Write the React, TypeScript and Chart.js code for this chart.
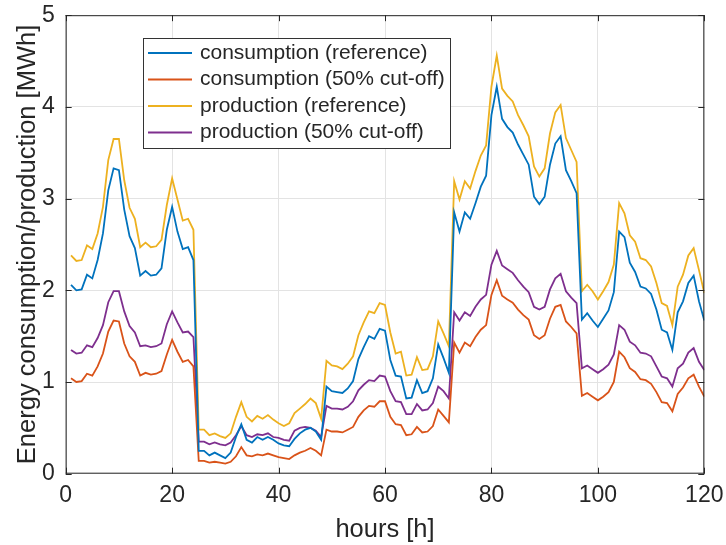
import React, { useEffect, useRef } from "react";
import { Chart, registerables } from "chart.js";

Chart.register(...registerables);

// Hourly series, hours 1..120
const FIRST_HOUR = 1;

const consumptionReference = [
  2.06, 2.0, 2.01, 2.17, 2.13, 2.33, 2.62, 3.09, 3.33, 3.31,
  2.88, 2.59, 2.46, 2.16, 2.21, 2.16, 2.17, 2.24, 2.66, 2.91,
  2.64, 2.45, 2.47, 2.33, 0.25, 0.25, 0.2, 0.23, 0.2, 0.17,
  0.23, 0.4, 0.54, 0.37, 0.34, 0.4, 0.37, 0.4, 0.37, 0.33,
  0.31, 0.3, 0.38, 0.44, 0.48, 0.5, 0.46, 0.37, 0.95, 0.9,
  0.89, 0.88, 0.93, 1.01, 1.25, 1.38, 1.5, 1.47, 1.58, 1.56,
  1.24, 1.07, 1.06, 0.82, 0.83, 1.02, 0.88, 0.9, 1.04, 1.41,
  1.26, 1.1, 2.85, 2.64, 2.85, 2.78, 2.95, 3.13, 3.25, 3.91,
  4.22, 3.87, 3.78, 3.72, 3.59, 3.48, 3.37, 3.02, 2.94, 3.02,
  3.37, 3.6, 3.68, 3.31, 3.19, 3.06, 1.68, 1.75, 1.67, 1.6,
  1.69, 1.78, 1.98, 2.64, 2.58, 2.3, 2.2, 2.04, 2.02, 1.96,
  1.79, 1.57, 1.54, 1.35, 1.76, 1.88, 2.08, 2.16, 1.88, 1.67,
];

const consumptionCutOff = [
  1.04, 1.0, 1.01, 1.09, 1.07, 1.17, 1.31, 1.55, 1.67, 1.66,
  1.42, 1.28, 1.22, 1.07, 1.1, 1.08, 1.09, 1.12, 1.3, 1.46,
  1.33, 1.22, 1.24, 1.17, 0.14, 0.14, 0.12, 0.13, 0.12, 0.11,
  0.13, 0.19, 0.29, 0.2, 0.19, 0.21, 0.2, 0.22, 0.2, 0.18,
  0.17, 0.16, 0.2, 0.23, 0.25, 0.28, 0.25, 0.2, 0.48, 0.46,
  0.46, 0.45, 0.48, 0.51, 0.62, 0.69, 0.74, 0.73, 0.79, 0.79,
  0.62, 0.54, 0.53, 0.42, 0.43, 0.51, 0.45, 0.46, 0.52, 0.7,
  0.63, 0.56, 1.43, 1.32, 1.43, 1.39, 1.49, 1.57, 1.62, 1.95,
  2.11, 1.94, 1.9, 1.865, 1.79, 1.73, 1.68, 1.51, 1.47, 1.51,
  1.69, 1.82, 1.84, 1.66, 1.6, 1.53, 0.85, 0.88, 0.84, 0.8,
  0.84, 0.89, 1.0, 1.33, 1.27, 1.15, 1.11, 1.03, 1.02, 0.98,
  0.89, 0.78, 0.77, 0.68, 0.87, 0.94, 1.04, 1.08, 0.95, 0.84,
];

const productionReference = [
  2.38, 2.32, 2.33, 2.49, 2.45, 2.62, 2.91, 3.42, 3.65, 3.65,
  3.2, 2.9, 2.78, 2.47, 2.52, 2.47, 2.48, 2.55, 2.93, 3.22,
  2.99, 2.76, 2.78, 2.66, 0.48, 0.48, 0.42, 0.44, 0.41, 0.39,
  0.44, 0.62, 0.78, 0.62, 0.57, 0.63, 0.6, 0.64, 0.59, 0.55,
  0.52, 0.55, 0.66, 0.71, 0.76, 0.82, 0.77, 0.6, 1.23, 1.18,
  1.17, 1.14, 1.2, 1.28, 1.51, 1.65, 1.77, 1.75, 1.86, 1.84,
  1.54, 1.31, 1.33, 1.07, 1.08, 1.27, 1.13, 1.14, 1.28, 1.66,
  1.53, 1.39, 3.19, 2.99, 3.19, 3.11, 3.3, 3.47, 3.58, 4.22,
  4.56, 4.2, 4.12, 4.06, 3.91, 3.8, 3.68, 3.35, 3.24, 3.33,
  3.71, 3.94, 4.02, 3.66, 3.53, 3.4, 1.99, 2.06, 1.99, 1.9,
  1.99, 2.09, 2.28, 2.95, 2.84, 2.6, 2.53, 2.35, 2.33, 2.26,
  2.08, 1.86, 1.83, 1.62, 2.04, 2.17, 2.38, 2.46, 2.22, 1.97,
];

const productionCutOff = [
  1.35, 1.31, 1.32, 1.4, 1.38, 1.48, 1.62, 1.87, 1.99, 1.99,
  1.77, 1.61, 1.54, 1.39, 1.4, 1.38, 1.39, 1.42, 1.63, 1.77,
  1.65, 1.54, 1.55, 1.49, 0.35, 0.35, 0.32, 0.34, 0.32, 0.31,
  0.34, 0.42, 0.52, 0.42, 0.4, 0.43, 0.42, 0.44, 0.4, 0.39,
  0.37, 0.36, 0.47, 0.5, 0.51, 0.5, 0.47, 0.4, 0.74, 0.71,
  0.71, 0.7, 0.73, 0.79, 0.91, 0.97, 1.02, 1.01, 1.07, 1.06,
  0.9, 0.79, 0.78, 0.65, 0.65, 0.76, 0.69, 0.7, 0.77, 0.95,
  0.9, 0.82, 1.76, 1.67, 1.76, 1.72, 1.82, 1.9, 1.95, 2.28,
  2.43, 2.27, 2.23, 2.19, 2.11, 2.04, 1.98, 1.82, 1.79, 1.82,
  2.01, 2.13, 2.18, 1.99, 1.92, 1.86, 1.15, 1.18, 1.14, 1.1,
  1.14, 1.19, 1.3, 1.62, 1.57, 1.44, 1.4, 1.32, 1.31, 1.28,
  1.17, 1.06, 1.04, 0.95, 1.15, 1.2, 1.32, 1.37, 1.22, 1.13,
];

const seriesLabels = [
  "consumption (reference)",
  "consumption (50% cut-off)",
  "production (reference)",
  "production (50% cut-off)",
];
const seriesColors = ["#0072BD", "#D95319", "#EDB120", "#7E2F8E"];

const xTickValues = [0, 20, 40, 60, 80, 100, 120];
const yTickValues = [0, 1, 2, 3, 4, 5];

const FONT_FAMILY = '"Liberation Sans", Arial, Helvetica, sans-serif';
const INK = "#262626";
const GRID = "#e3e3e3";
const TICK_LEN = 6;
const LINE_W = 1.8;

// axes box with inward ticks on all four sides
const axesBox = {
  id: "axesBox",
  afterDatasetsDraw(chart: any) {
    const { ctx, chartArea: a, scales } = chart;
    ctx.save();
    ctx.strokeStyle = INK;
    ctx.lineWidth = 1;
    ctx.beginPath();
    ctx.moveTo(a.left, a.top + 0.5);
    ctx.lineTo(a.right, a.top + 0.5);
    ctx.moveTo(a.right - 0.5, a.top);
    ctx.lineTo(a.right - 0.5, a.bottom);
    ctx.moveTo(a.left, a.bottom - 0.5);
    ctx.lineTo(a.right, a.bottom - 0.5);
    ctx.moveTo(a.left + 0.5, a.top);
    ctx.lineTo(a.left + 0.5, a.bottom);
    for (const v of xTickValues) {
      const px = Math.round(scales.x.getPixelForValue(v)) + 0.5;
      ctx.moveTo(px, a.bottom);
      ctx.lineTo(px, a.bottom - TICK_LEN);
      ctx.moveTo(px, a.top);
      ctx.lineTo(px, a.top + TICK_LEN);
    }
    for (const v of yTickValues) {
      const py = Math.round(scales.y.getPixelForValue(v)) + 0.5;
      ctx.moveTo(a.left, py);
      ctx.lineTo(a.left + TICK_LEN, py);
      ctx.moveTo(a.right, py);
      ctx.lineTo(a.right - TICK_LEN, py);
    }
    ctx.stroke();
    ctx.restore();
  },
};

// boxed legend inside the plot area, upper left
const boxedLegend = {
  id: "boxedLegend",
  afterDraw(chart: any) {
    const { ctx, chartArea: a } = chart;
    const left = Math.round(a.left + 77);
    const top = Math.round(a.top + 23);
    const width = 307;
    const height = 110;
    const rowH = 26.5;
    ctx.save();
    ctx.fillStyle = "#ffffff";
    ctx.fillRect(left, top, width, height);
    ctx.strokeStyle = "#333333";
    ctx.lineWidth = 1;
    ctx.strokeRect(left + 0.5, top + 0.5, width, height);
    ctx.font = `21px ${FONT_FAMILY}`;
    ctx.textBaseline = "middle";
    ctx.textAlign = "left";
    chart.data.datasets.forEach((ds: any, i: number) => {
      const y = top + 15 + i * rowH;
      ctx.strokeStyle = ds.borderColor;
      ctx.lineWidth = LINE_W;
      ctx.beginPath();
      ctx.moveTo(left + 5, y);
      ctx.lineTo(left + 49, y);
      ctx.stroke();
      ctx.fillStyle = INK;
      ctx.fillText(ds.label, left + 57, y);
    });
    ctx.restore();
  },
};

export default function App() {
  const canvasRef = useRef<HTMLCanvasElement | null>(null);

  useEffect(() => {
    document.body.style.margin = "0";
    const canvas = canvasRef.current;
    if (!canvas) return;
    const series = [consumptionReference, consumptionCutOff, productionReference, productionCutOff];
    const datasets = series.map((values, i) => ({
      label: seriesLabels[i],
      data: values.map((v, k) => ({ x: FIRST_HOUR + k, y: v })),
      borderColor: seriesColors[i],
      backgroundColor: seriesColors[i],
      borderWidth: LINE_W,
      pointRadius: 0,
      tension: 0,
      fill: false,
    }));

    const chart = new Chart(canvas, {
      type: "line",
      data: { datasets },
      options: {
        animation: false,
        responsive: false,
        devicePixelRatio: 1,
        layout: { padding: { left: 0, right: 21.7, top: 15.2, bottom: 0 } },
        plugins: { legend: { display: false }, tooltip: { enabled: false } },
        scales: {
          x: {
            type: "linear",
            min: 0,
            max: 120,
            afterBuildTicks: (scale: any) => {
              scale.ticks = xTickValues.map((value) => ({ value }));
            },
            afterFit: (scale: any) => {
              scale.height = 71.3;
              scale.paddingLeft = 0;
              scale.paddingRight = 0;
            },
            grid: { color: GRID, lineWidth: 1, drawTicks: false },
            border: { display: false },
            ticks: {
              color: INK,
              font: { family: FONT_FAMILY, size: 23 },
              padding: 8.5,
              maxRotation: 0,
              autoSkip: false,
              callback: (v: any) => String(v),
            },
            title: {
              display: true,
              text: "hours [h]",
              color: INK,
              font: { family: FONT_FAMILY, size: 25.5 },
              padding: { top: 0, bottom: 0 },
            },
          },
          y: {
            type: "linear",
            min: 0,
            max: 5,
            afterBuildTicks: (scale: any) => {
              scale.ticks = yTickValues.map((value) => ({ value }));
            },
            afterFit: (scale: any) => {
              scale.width = 65.7;
              scale.paddingTop = 0;
              scale.paddingBottom = 0;
            },
            grid: { color: GRID, lineWidth: 1, drawTicks: false },
            border: { display: false },
            ticks: {
              color: INK,
              font: { family: FONT_FAMILY, size: 23 },
              padding: 11,
              autoSkip: false,
              callback: (v: any) => String(v),
            },
            title: {
              display: true,
              text: "Energy consumption/production [MWh]",
              color: INK,
              font: { family: FONT_FAMILY, size: 25.5 },
              padding: { top: 13, bottom: 0 },
            },
          },
        },
      },
      plugins: [axesBox, boxedLegend],
    });

    return () => chart.destroy();
  }, []);

  return (
    <div style={{ position: "absolute", left: 0, top: 0, width: 726, height: 545, background: "#fff" }}>
      <canvas ref={canvasRef} width={726} height={545} />
    </div>
  );
}
